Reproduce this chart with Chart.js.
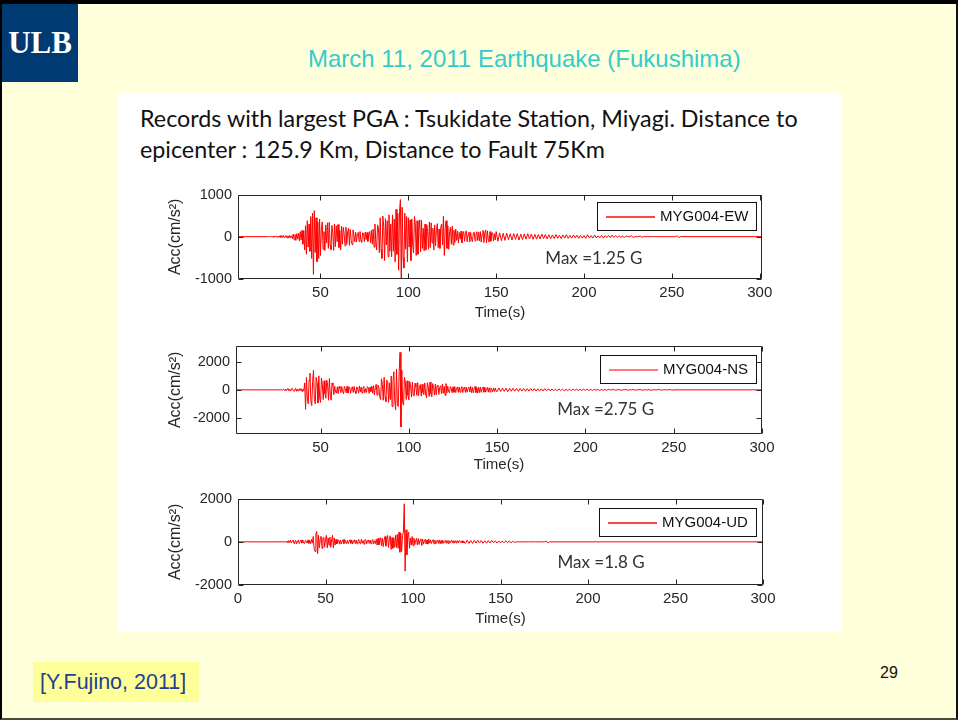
<!DOCTYPE html>
<html>
<head>
<meta charset="utf-8">
<script src="https://cdn.jsdelivr.net/npm/chart.js@4/dist/chart.umd.min.js"></script>
<style>
  html, body { margin: 0; padding: 0; }
  body { width: 958px; height: 720px; overflow: hidden; position: relative; background: #ffffdc;
         font-family: "Liberation Sans", Arial, sans-serif; }
  #frame { position: absolute; left: 0; top: 0; width: 958px; height: 720px; box-sizing: border-box;
           border-top: 4px solid #000; border-left: 2px solid #000; border-right: 2px solid #111;
           border-bottom: 2px solid #4a4a38; }
  #logo { position: absolute; left: 2px; top: 4px; width: 76px; height: 78px; background: #003a72; color: #fff;
          font: bold 31px "Liberation Serif", "DejaVu Serif", serif; display: flex; align-items: center;
          justify-content: center; }
  #title { position: absolute; left: 308px; top: 45px; font-size: 24px; line-height: 28px; color: #33cccc;
           white-space: nowrap; }
  #panel { position: absolute; left: 118px; top: 93px; width: 723px; height: 539px; background: #fff; }
  #header { position: absolute; left: 140px; top: 103px; font: 23.3px Lato, "Open Sans", sans-serif;
            line-height: 31px; color: #111; white-space: nowrap; }
  #source { position: absolute; left: 33px; top: 662px; width: 166px; height: 40px; background: #ffff99;
            color: #1f3f8f; font-size: 21.5px; line-height: 40px; box-sizing: border-box; padding-left: 7px;
            white-space: nowrap; }
  #page { position: absolute; left: 880px; top: 664px; font-size: 16px; color: #111; }
  canvas { position: absolute; }
</style>
</head>
<body>
<div id="frame"></div>
<div id="logo">ULB</div>
<div id="title">March 11, 2011 Earthquake (Fukushima)</div>
<div id="panel"></div>
<div id="header">Records with largest PGA : Tsukidate Station, Miyagi. Distance to<br>epicenter : 125.9 Km, Distance to Fault 75Km</div>
<canvas id="ew" width="660" height="150" style="left:140px;top:180px;width:660px;height:150px"></canvas>
<canvas id="ns" width="660" height="151" style="left:140px;top:331px;width:660px;height:151px"></canvas>
<canvas id="ud" width="660" height="148" style="left:140px;top:484px;width:660px;height:148px"></canvas>
<div id="source">[Y.Fujino, 2011]</div>
<div id="page">29</div>

<script>
// Each record is digitised in two parts: the strong-motion part every 0.5 s,
// the coda every 1 s. Accelerations in cm/s^2.
const EARLY_STEP = 0.5;
const LATE_STEP = 1;
const RECORD_END = 303;

// MYG004 east-west
const ewEarlyStart = 20;
const ewEarly = [
  0, 0, 3, -4, 6, -8, 10, -12, 15, -9, 18, -20, 12, -15, 22, -18, 25, -20, 28, -22,
  -15, 25, -30, 22, -35, 30, -28, 18, -45, 60, -75, 50, -90, 70, -60, 85, -100, 120, -80, 150,
  -180, 140, -320, 260, -420, 380, -250, 300, -350, 480, -520, 560, -900, 620, -380, 450, -600, 350, -520, 420,
  -450, 180, 350, -300, 120, -330, 280, -150, 330, -280, 340, -200, -310, 270, 90, -330, 300, -240, 260, -120,
  290, -260, 150, -320, 250, -180, 220, 60, -220, 230, -180, 120, 200, -210, 170, -90, -190, 160, 40, -120,
  110, -130, 70, 100, -115, 120, -60, -140, 90, 80, -120, 110, -70, 100, -115, 60, 120, -140, 150, -180,
  180, -250, 300, -120, -320, 280, 200, -380, 450, -300, -520, 490, 250, -570, 430, -200, 380, -480, 520, -350,
  300, -480, 520, -350, 420, -600, 650, -420, 550, -800, 600, 885, -1226, 700, -500, -750, 560, -300, 480, -600,
  450, -250, 400, -570, 420, -200, -390, 480, 300, -450, 380, -420, 150, 400, -360, 390, -280, 200, -340, 300,
  -320, 280, 120, -300, 350, -260, 330, -150, 200, -320, 280, -220, 150, 310, -260, 180, -280, 240, 300, -200,
  490, -450, 200, 380, -280, 260, -300, 120, 220, -180, 250, -200, 150, -140, 180, -90, 130, -150, 100, -60,
  130, -150, 60, 120, -110, 80, 140, -120, 40, 110, -130, 100, -70, -120, 90, 110, -100, 50, 120, -90,
  110, -100, 120, -130, 60, 150, -140, 90, 160, -150, 140, -60, -130, 120, -110, 80, 90, -100, 70, -80
];
const ewLateStart = 150;
const ewLate = [
  120, -110, 90, -100, 80, -90, 85, -75, 70, -80,
  75, -65, 70, -80, 60, -70, 65, -60, 70, -55,
  60, -65, 55, -60, 50, -55, 60, -45, 50, -55,
  45, -50, 40, -45, 50, -40, 35, -45, 40, -35,
  45, -40, 30, -35, 40, -30, 35, -40, 30, -35,
  25, -40, 45, -30, 25, -35, 40, -30, 20, -25,
  30, -35, 25, -20, 30, -25, 35, -20, 25, -15,
  20, -15, 10, -20, 15, 0, 0, 25, -20, 0,
  0, 0, 15, -15, 0, 0, 0, 0, 0, 0,
  0, 0, 0, 0, 0, 0, 0, 0, 0, 0,
  0, 0, 0, 20, -20, 0
];

// MYG004 north-south
const nsEarlyStart = 28;
const nsEarly = [
  0, 0, 30, -40,
  60, -80, 40, 95, -70, 50, -90, 80, 110, -60, -85, 70, 100, -105, 45, -90, 85, -60, 90, -110,
  60, -80, 500, -1400, 890, -600, -1000, 700, 1200, -800, -1130, 600, 1410, -700, -1000, 900, 500, -950, 1000, -600,
  -900, 850, 400, -700, 650, -300, -600, 700, 350, -750, 810, -400, -740, 500, 300, -350, 270, -150, -240, 220,
  -260, 250, 100, -200, 230, -120, -270, 240, 80, -210, 260, -230, 140, 200, -250, 90, 220, -190, 240, -100,
  -260, 210, 60, -240, 280, -150, 200, -230, 120, 250, -210, 90, -180, 230, 160, -260, 200, -120, 280, -240,
  300, -350, 150, 400, -380, 350, 200, -450, -700, 800, 400, -750, 900, -500, -850, 700, 600, -900, 500, -700,
  1000, -1200, 600, 1300, -800, -1450, 1500, -1000, -1200, 1300, 2697, -2671, 1400, -900, -1100, 900, 600, -700, 650, -400,
  -720, 600, 300, -500, 550, -350, -450, 480, 200, -400, 520, -420, 250, 380, -450, 400, -200, -350, 500, -300,
  -570, 520, 200, -480, 560, -300, -500, 450, 150, -380, 420, -360, 300, 350, -330, 180, 300, -270, 420, -250,
  250, -400, 450, -230, 260, -120, -210, 240, 100, -200, 220, -180, 230, -190, 80, 210, -180, 200, -170, 60,
  230, -190, 120, 210, -180, 200, -170, 90, 190, -160, 250, -200, 180, -210, 100, 240, -200, 150, -220, 180,
  -190, 210, -180, 80, 200, -170, 190, -160, 60, 180, -170, 150, -160, 140, 70, -130, 140, -120, 130, -110
];
const nsLateStart = 150;
const nsLate = [
  -130, 140, -120, 130, -110, 120, -125, 110,
  -100, 115, -95, 105, -110, 100, -90, 95, -100, 85,
  -90, 95, -80, 90, -85, 80, -90, 75, -80, 85,
  -70, 80, -75, 65, -70, 60, -65, 70, -55, 60,
  -65, 50, -60, 55, -50, 60, -45, 50, -55, 45,
  -50, 55, -40, 45, -50, 40, -45, 50, -35, 40,
  -45, 35, -40, 30, -35, 40, 0, 0, 35, -30,
  0, 30, -35, 0, 0, 30, -25, 0, 0, 30,
  -30, 0, 0, 35, -30, 0, 0, 0, 25, -30,
  0, 0, 0, 0, 30, -25, 0, 0, 0, 0,
  30, -30, 0
];

// MYG004 up-down
const udEarlyStart = 27;
const udEarly = [
  0, 0, 20, -40, 60, -30,
  70, -55, 30, 80, -75, 40, 65, -90, 50, 70, -80, 20, 85, -60, 90, -45, -85, 70, 40, -60,
  90, -70, 60, -85, 120, -60, 250, -300, -450, 380, 485, -545, 300, -280, 120, 260, -300, 180, 220, -250,
  100, 300, -280, 180, -150, 220, -250, 90, 300, -280, 180, -150, 120, -100, 60, 90, -110, 80, -95, 40,
  100, -85, 110, -40, -90, 75, -80, 30, 95, -70, 85, -100, 50, 90, -75, 80, -95, 20, 110, -60,
  -90, 120, -70, 60, -110, 85, 100, -95, 40, 90, -75, 80, -95, 60, 110, -90, 50, -80, 120, -150,
  170, -140, 60, 200, -180, 160, -220, 90, 250, -200, 150, 300, -260, 120, 280, -350, 200, -300, 180, -250,
  300, -260, 350, -300, 450, -480, 400, -450, 300, 450, 1765, -1360, 560, -600, 300, 450, -300, 180, -150, 250,
  -180, 170, -130, 60, 160, -140, 150, -120, 80, 140, -170, 130, -110, 50, 120, -100, 90, -105, 130, -60,
  95, -80, 40, 100, -90, 85, -95, 30, 80, -75, 90, -85, 60, -70, 75, -65, 20, 80, -70, 60,
  -75, 65, -60, 30, 70, -55, 60, -65, 50, -20, -60, 55, -50, 60, 25, -45, 50, -55, 40, -50
];
const udLateStart = 130;
const udLate = [
  -65, 80, -70, 60, -75, 65, -60,
  70, -55, 60, -65, 50, -60, 55, -50, 60, -45,
  50, -55, 40, -50, 45, -40, 50, -35, 40, -45,
  30, -25, 0, 0, 0, 0, 0, 0, 0, 0,
  0, 0, 0, 0, 0, 0, 0, 0, 0, 40,
  -45, 0
];

// Axis tick values
const timeTicks = [50, 100, 150, 200, 250, 300];
const timeTicksFromZero = [0, 50, 100, 150, 200, 250, 300];
const ewAccTicks = [-1000, 0, 1000];
const nsAccTicks = [-2000, 0, 2000];
const udAccTicks = [-2000, 0, 2000];

// Station labels and peak ground acceleration notes
const stationNames = ['MYG004-EW', 'MYG004-NS', 'MYG004-UD'];
const peakNotes = ['Max =1.25 G', 'Max =2.75 G', 'Max =1.8 G'];

const AXIS_FONT = '"Liberation Sans", Arial, sans-serif';
const INK = '#262626';

function tracePoints(earlyStart, early, lateStart, late) {
  const pts = [{ x: 0, y: 0 }];
  early.forEach((v, i) => pts.push({ x: earlyStart + i * EARLY_STEP, y: v }));
  late.forEach((v, i) => pts.push({ x: lateStart + i * LATE_STEP, y: v }));
  pts.push({ x: RECORD_END, y: 0 });
  return pts;
}

// Boxed axes with inward ticks, an outlined legend and the peak note.
function boxedAxes(p) {
  return {
    id: 'boxedAxes',
    afterDatasetsDraw(chart) {
      const { ctx, chartArea: a, scales: { x, y } } = chart;
      ctx.save();
      const L = Math.round(a.left) + 0.5, R = Math.round(a.right) - 0.5;
      const T = Math.round(a.top) + 0.5, B = Math.round(a.bottom) - 0.5;
      ctx.strokeStyle = INK;
      ctx.lineWidth = 1;
      ctx.beginPath();
      ctx.rect(L, T, R - L, B - T);
      for (const v of p.xTicks) {
        const px = Math.round(x.getPixelForValue(v)) + 0.5;
        ctx.moveTo(px, B); ctx.lineTo(px, B - 5);
        ctx.moveTo(px, T); ctx.lineTo(px, T + 5);
      }
      for (const v of p.yTicks) {
        const py = Math.round(y.getPixelForValue(v)) + 0.5;
        ctx.moveTo(L, py); ctx.lineTo(L + 5, py);
        ctx.moveTo(R, py); ctx.lineTo(R - 5, py);
      }
      ctx.stroke();

      // legend
      ctx.font = '15px ' + AXIS_FONT;
      const tw = ctx.measureText(p.name).width;
      const boxW = Math.round(9 + 49 + 5 + tw + 9), boxH = 29;
      const boxR = Math.round(a.right) - p.legendInset;
      const boxT = Math.round(a.top) + p.legendTop;
      const boxL = boxR - boxW;
      ctx.fillStyle = '#fff';
      ctx.fillRect(boxL, boxT, boxW, boxH);
      ctx.strokeStyle = '#111';
      ctx.lineWidth = 1;
      ctx.strokeRect(boxL + 0.5, boxT + 0.5, boxW - 1, boxH - 1);
      const ly = boxT + Math.round(boxH / 2);
      ctx.fillStyle = p.legendColor;
      ctx.fillRect(boxL + 9, ly - p.legendWidth / 2, 49, p.legendWidth);
      ctx.fillStyle = '#111';
      ctx.textAlign = 'left';
      ctx.textBaseline = 'middle';
      ctx.fillText(p.name, boxL + 63, boxT + boxH / 2 + 0.5);

      // peak note
      ctx.font = '17px Lato, "Open Sans", sans-serif';
      ctx.fillStyle = '#333';
      ctx.fillText(p.note, x.getPixelForValue(p.noteAt.x), y.getPixelForValue(p.noteAt.y));
      ctx.restore();
    }
  };
}

function makeRecordChart(p) {
  return new Chart(document.getElementById(p.canvas), {
    type: 'line',
    data: {
      datasets: [{
        data: p.points,
        borderColor: '#ff0000',
        borderWidth: 1,
        borderJoinStyle: 'bevel',
        pointRadius: 0,
        tension: 0,
        fill: false
      }]
    },
    options: {
      responsive: false,
      animation: false,
      devicePixelRatio: 1,
      events: [],
      parsing: false,
      layout: { padding: { top: p.padTop, right: p.padRight, left: 0, bottom: 0 } },
      plugins: {
        legend: { display: false },
        tooltip: { enabled: false }
      },
      scales: {
        x: {
          type: 'linear', min: p.xRange[0], max: p.xRange[1],
          afterBuildTicks: s => { s.ticks = p.xTicks.map(v => ({ value: v })); },
          afterFit: s => { s.height = p.xHeight; },
          grid: { display: false, drawTicks: false },
          border: { display: false },
          ticks: { padding: 5, autoSkip: false, maxRotation: 0, minRotation: 0, color: INK,
                   font: { family: AXIS_FONT, size: 15 }, callback: v => String(v) },
          title: { display: true, text: 'Time(s)', color: INK, font: { family: AXIS_FONT, size: 15 },
                   padding: { top: 0, bottom: p.xTitlePad } }
        },
        y: {
          type: 'linear', min: p.yRange[0], max: p.yRange[1],
          afterBuildTicks: s => { s.ticks = p.yTicks.map(v => ({ value: v })); },
          afterFit: s => { s.width = p.yWidth; },
          grid: { display: false, drawTicks: false },
          border: { display: false },
          ticks: { padding: 6, autoSkip: false, color: INK,
                   font: { family: AXIS_FONT, size: 14.5 }, callback: v => String(v) },
          title: { display: true, text: 'Acc(cm/s²)', color: INK, font: { family: AXIS_FONT, size: 16 },
                   padding: { top: 26, bottom: 0 } }
        }
      }
    },
    plugins: [boxedAxes(p)]
  });
}

makeRecordChart({
  canvas: 'ew', points: tracePoints(ewEarlyStart, ewEarly, ewLateStart, ewLate),
  name: stationNames[0], note: peakNotes[0],
  xRange: [3.07, 301.3], yRange: [-1010, 1000], xTicks: timeTicks, yTicks: ewAccTicks,
  legendColor: '#ff1a1a', legendWidth: 1.6, legendInset: 5, legendTop: 7, noteAt: { x: 178, y: -520 },
  padTop: 10, padRight: 38, yWidth: 98, xHeight: 51, xTitlePad: 8.5
});
makeRecordChart({
  canvas: 'ns', points: tracePoints(nsEarlyStart, nsEarly, nsLateStart, nsLate),
  name: stationNames[1], note: peakNotes[1],
  xRange: [2.1, 300], yRange: [-3175, 3175], xTicks: timeTicks, yTicks: nsAccTicks,
  legendColor: '#ff5a5a', legendWidth: 1.6, legendInset: 5, legendTop: 9, noteAt: { x: 184, y: -1440 },
  padTop: 10, padRight: 38, yWidth: 96, xHeight: 48, xTitlePad: 8
});
makeRecordChart({
  canvas: 'ud', points: tracePoints(udEarlyStart, udEarly, udLateStart, udLate),
  name: stationNames[2], note: peakNotes[2],
  xRange: [0, 300], yRange: [-2000, 2000], xTicks: timeTicksFromZero, yTicks: udAccTicks,
  legendColor: '#ff1a1a', legendWidth: 1.6, legendInset: 6, legendTop: 9, noteAt: { x: 182.6, y: -950 },
  padTop: 10, padRight: 37, yWidth: 98, xHeight: 47, xTitlePad: 4
});
</script>
</body>
</html>
